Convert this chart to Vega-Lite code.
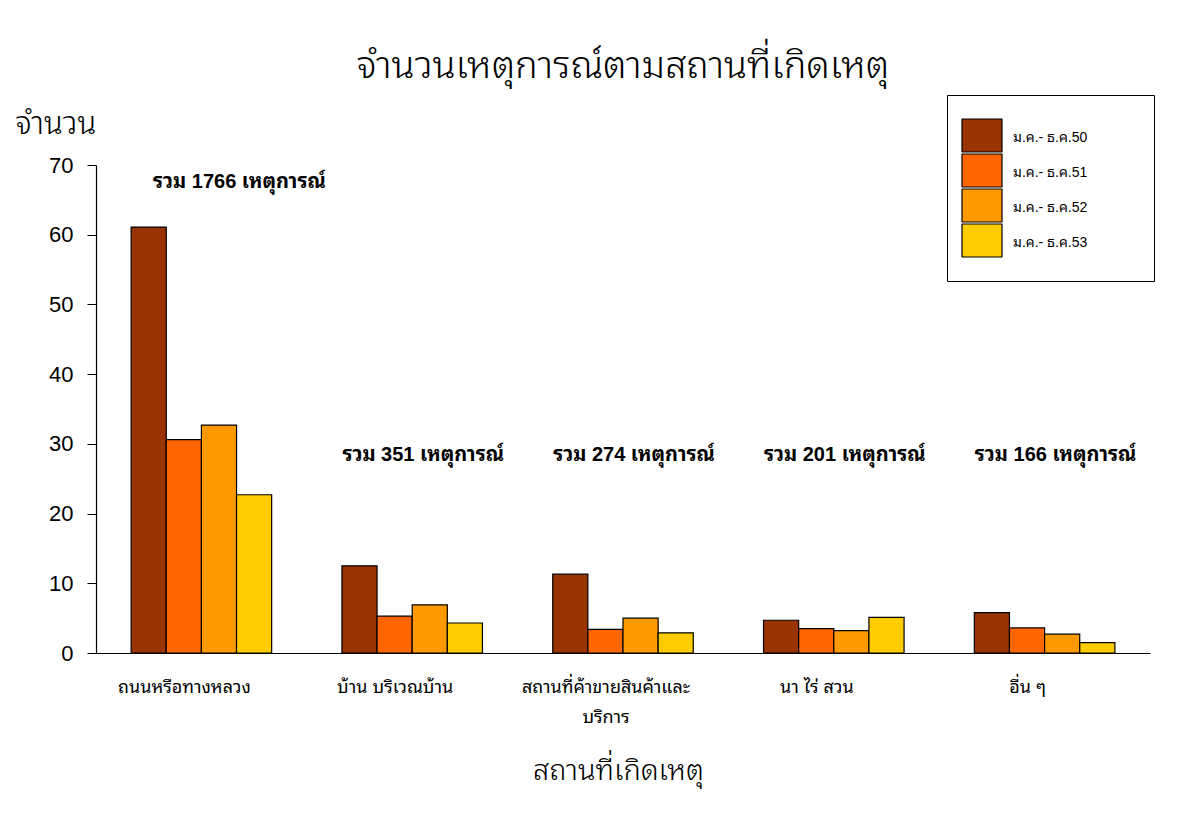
{
  "$schema": "https://vega.github.io/schema/vega-lite/v6.json",
  "autosize": "none",
  "width": 1054,
  "height": 488,
  "padding": {"left": 96, "top": 165, "right": 32, "bottom": 161},
  "background": "white",
  "config": {
    "font": "Liberation Sans, Noto Sans Thai Looped, Noto Sans Thai, Noto Sans, sans-serif",
    "view": {"stroke": null}
  },
  "title": {
    "text": "จำนวนเหตุการณ์ตามสถานที่เกิดเหตุ",
    "fontSize": 38,
    "fontWeight": 300,
    "color": "black",
    "anchor": "middle",
    "baseline": "alphabetic",
    "offset": 24,
    "dy": 45
  },
  "datasets": {
    "bars": [
      {"place": "ถนนหรือทางหลวง", "period": "ม.ค.- ธ.ค.50", "value": 61.1},
      {"place": "ถนนหรือทางหลวง", "period": "ม.ค.- ธ.ค.51", "value": 30.6},
      {"place": "ถนนหรือทางหลวง", "period": "ม.ค.- ธ.ค.52", "value": 32.7},
      {"place": "ถนนหรือทางหลวง", "period": "ม.ค.- ธ.ค.53", "value": 22.7},
      {"place": "บ้าน บริเวณบ้าน", "period": "ม.ค.- ธ.ค.50", "value": 12.5},
      {"place": "บ้าน บริเวณบ้าน", "period": "ม.ค.- ธ.ค.51", "value": 5.3},
      {"place": "บ้าน บริเวณบ้าน", "period": "ม.ค.- ธ.ค.52", "value": 6.9},
      {"place": "บ้าน บริเวณบ้าน", "period": "ม.ค.- ธ.ค.53", "value": 4.3},
      {"place": "สถานที่ค้าขายสินค้าและบริการ", "period": "ม.ค.- ธ.ค.50", "value": 11.3},
      {"place": "สถานที่ค้าขายสินค้าและบริการ", "period": "ม.ค.- ธ.ค.51", "value": 3.4},
      {"place": "สถานที่ค้าขายสินค้าและบริการ", "period": "ม.ค.- ธ.ค.52", "value": 5.0},
      {"place": "สถานที่ค้าขายสินค้าและบริการ", "period": "ม.ค.- ธ.ค.53", "value": 2.9},
      {"place": "นา ไร่ สวน", "period": "ม.ค.- ธ.ค.50", "value": 4.7},
      {"place": "นา ไร่ สวน", "period": "ม.ค.- ธ.ค.51", "value": 3.5},
      {"place": "นา ไร่ สวน", "period": "ม.ค.- ธ.ค.52", "value": 3.2},
      {"place": "นา ไร่ สวน", "period": "ม.ค.- ธ.ค.53", "value": 5.1},
      {"place": "อื่น ๆ", "period": "ม.ค.- ธ.ค.50", "value": 5.8},
      {"place": "อื่น ๆ", "period": "ม.ค.- ธ.ค.51", "value": 3.6},
      {"place": "อื่น ๆ", "period": "ม.ค.- ธ.ค.52", "value": 2.7},
      {"place": "อื่น ๆ", "period": "ม.ค.- ธ.ค.53", "value": 1.5}
    ],
    "totals": [
      {"place": "ถนนหรือทางหลวง", "label": "รวม 1766 เหตุการณ์"},
      {"place": "บ้าน บริเวณบ้าน", "label": "รวม 351 เหตุการณ์"},
      {"place": "สถานที่ค้าขายสินค้าและบริการ", "label": "รวม 274 เหตุการณ์"},
      {"place": "นา ไร่ สวน", "label": "รวม 201 เหตุการณ์"},
      {"place": "อื่น ๆ", "label": "รวม 166 เหตุการณ์"}
    ]
  },
  "layer": [
    {
      "data": {"name": "bars"},
      "mark": {"type": "bar", "stroke": "black", "strokeWidth": 1.2},
      "encoding": {
        "x": {
          "field": "place",
          "type": "nominal",
          "sort": null,
          "scale": {"paddingInner": 0, "paddingOuter": 0},
          "axis": {
            "title": "สถานที่เกิดเหตุ",
            "titleFontSize": 29,
            "titleFontWeight": 300,
            "titleColor": "black",
            "titleBaseline": "middle",
            "titleY": 117,
            "titleX": 522,
            "labelFontSize": 18,
            "labelColor": "black",
            "labelAngle": 0,
            "labelPadding": 34,
            "labelOffset": -17,
            "labelLineHeight": 30,
            "labelBaseline": "middle",
            "labelExpr": "datum.value == 'สถานที่ค้าขายสินค้าและบริการ' ? ['สถานที่ค้าขายสินค้าและ', 'บริการ'] : datum.value",
            "ticks": false,
            "domainColor": "black",
            "domainWidth": 1.2
          }
        },
        "xOffset": {
          "field": "period",
          "type": "nominal",
          "scale": {"paddingInner": 0, "paddingOuter": 1}
        },
        "y": {
          "field": "value",
          "type": "quantitative",
          "scale": {"domain": [0, 70], "nice": false},
          "axis": {
            "title": "จำนวน",
            "titleFontSize": 31,
            "titleFontWeight": 300,
            "titleColor": "black",
            "titleAngle": 0,
            "titleAlign": "left",
            "titleBaseline": "alphabetic",
            "titleX": -81,
            "titleY": -32,
            "values": [0, 10, 20, 30, 40, 50, 60, 70],
            "grid": false,
            "labelFontSize": 22,
            "labelColor": "black",
            "labelPadding": 14,
            "tickSize": 9,
            "tickColor": "black",
            "domainColor": "black",
            "domainWidth": 1.2
          }
        },
        "color": {
          "field": "period",
          "type": "nominal",
          "scale": {"range": ["#993300", "#FF6600", "#FF9900", "#FFCC00"]},
          "legend": {
            "title": null,
            "orient": "none",
            "legendX": 851,
            "legendY": -70,
            "padding": 23,
            "fillColor": "white",
            "strokeColor": "black",
            "symbolType": "M-1.9,-1H2.1V2.3H-1.9Z",
            "symbolSize": 400,
            "symbolStrokeColor": "black",
            "symbolStrokeWidth": 1.2,
            "symbolOpacity": 1,
            "rowPadding": 0,
            "labelFontSize": 14,
            "labelColor": "black",
            "labelOffset": 21,
            "labelLimit": 300,
            "labelExpr": "datum.label + '\u00a0\u00a0\u00a0\u00a0\u00a0\u00a0\u00a0\u00a0\u00a0\u00a0\u00a0\u200b'",
            "encode": {
              "symbols": {"update": {"strokeJoin": {"value": "bevel"}}},
              "labels": {"update": {"dy": {"value": 9}}}
            }
          }
        }
      }
    },
    {
      "data": {"name": "totals"},
      "transform": [{"filter": "datum.place == 'ถนนหรือทางหลวง'"}],
      "mark": {"type": "text", "fontSize": 20, "fontWeight": "bold", "color": "black", "dx": 38, "baseline": "middle"},
      "encoding": {
        "x": {"field": "place", "type": "nominal", "sort": null},
        "y": {"datum": 67.6},
        "text": {"field": "label"}
      }
    },
    {
      "data": {"name": "totals"},
      "transform": [{"filter": "datum.place != 'ถนนหรือทางหลวง'"}],
      "mark": {"type": "text", "fontSize": 20, "fontWeight": "bold", "color": "black", "dx": 11, "baseline": "middle"},
      "encoding": {
        "x": {"field": "place", "type": "nominal", "sort": null},
        "y": {"datum": 28.4},
        "text": {"field": "label"}
      }
    }
  ]
}
